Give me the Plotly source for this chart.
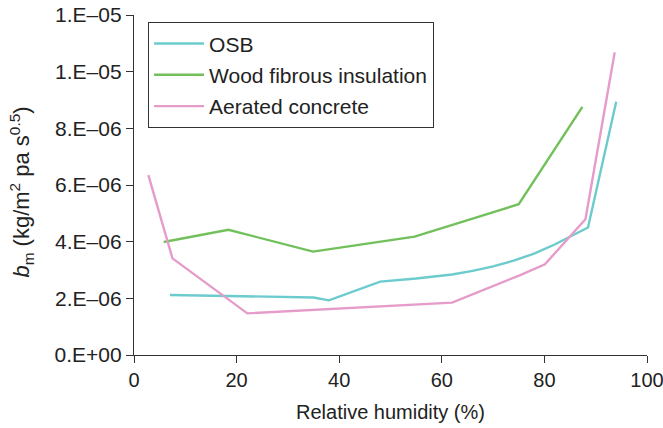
import plotly.graph_objects as go

osb_x = [7, 20, 35, 38, 48, 55, 62, 66, 70, 74, 78, 82, 88.5, 94]
osb_y = [2.12e-6, 2.08e-6, 2.03e-6, 1.93e-6, 2.59e-6, 2.70e-6, 2.84e-6, 2.97e-6, 3.13e-6, 3.33e-6, 3.58e-6, 3.90e-6, 4.50e-6, 8.94e-6]

wood_x = [5.8, 18.4, 34.9, 54.7, 75, 87.4]
wood_y = [3.99e-6, 4.42e-6, 3.65e-6, 4.18e-6, 5.32e-6, 8.76e-6]

aer_x = [2.8, 7.5, 22.1, 48, 62, 75.3, 80.1, 88, 93.7]
aer_y = [6.35e-6, 3.41e-6, 1.47e-6, 1.73e-6, 1.85e-6, 2.82e-6, 3.20e-6, 4.79e-6, 1.068e-5]

y_tickvals = [0, 2e-6, 4e-6, 6e-6, 8e-6, 1e-5, 1.2e-5]
y_ticktext = ["0.E+00", "2.E\u201306", "4.E\u201306", "6.E\u201306", "8.E\u201306", "1.E\u201305", "1.E\u201305"]
x_tickvals = [0, 20, 40, 60, 80, 100]

font = "Liberation Sans, Arial, sans-serif"

fig = go.Figure()
fig.add_trace(go.Scatter(x=osb_x, y=osb_y, mode="lines", name="OSB", legendgroup="a",
                         line=dict(color="#6ccbcd", width=2.4)))
fig.add_trace(go.Scatter(x=wood_x, y=wood_y, mode="lines", name="Wood fibrous insulation", legendgroup="b",
                         line=dict(color="#72c05b", width=2.4)))
fig.add_trace(go.Scatter(x=aer_x, y=aer_y, mode="lines", name="Aerated concrete", legendgroup="c",
                         line=dict(color="#e59cca", width=2.4)))

fig.update_layout(
    width=663, height=428,
    margin=dict(l=134, r=16, t=15, b=73, autoexpand=False),
    paper_bgcolor="white", plot_bgcolor="white",
    font=dict(family=font, size=20, color="#222"),
    showlegend=True,
    legend=dict(x=0.027, y=0.979, xanchor="left", yanchor="top",
                bordercolor="#333", borderwidth=1.2, bgcolor="white",
                traceorder="grouped", tracegroupgap=1, itemwidth=50,
                font=dict(size=21, family=font)),
    xaxis=dict(range=[0, 100], tickvals=x_tickvals, showgrid=False, zeroline=False,
               automargin=False, ticklabeloverflow="allow",
               showline=True, linecolor="#333", linewidth=1.3,
               ticks="outside", ticklen=7, tickcolor="#333", tickwidth=1.3,
               tickfont=dict(size=20),
               title=dict(text="Relative humidity (%)", font=dict(size=20), standoff=14)),
    yaxis=dict(range=[0, 1.2e-5], tickvals=y_tickvals, ticktext=y_ticktext,
               showgrid=False, zeroline=False, automargin=False, ticklabeloverflow="allow",
               showline=True, linecolor="#333", linewidth=1.3,
               ticks="outside", ticklen=7, tickcolor="#333", tickwidth=1.3,
               tickfont=dict(size=21)),
    annotations=[dict(text="<i>b</i><sub>m</sub> (kg/m<sup>2</sup> pa s<sup>0.5</sup>)",
                      xref="paper", yref="paper", x=-0.220, y=0.478,
                      xanchor="center", yanchor="middle", textangle=-90,
                      showarrow=False, font=dict(size=22, family=font, color="#222"))],
)

fig.write_html("out.html", config={"displayModeBar": False},
               post_script="document.body.style.margin='0';")
